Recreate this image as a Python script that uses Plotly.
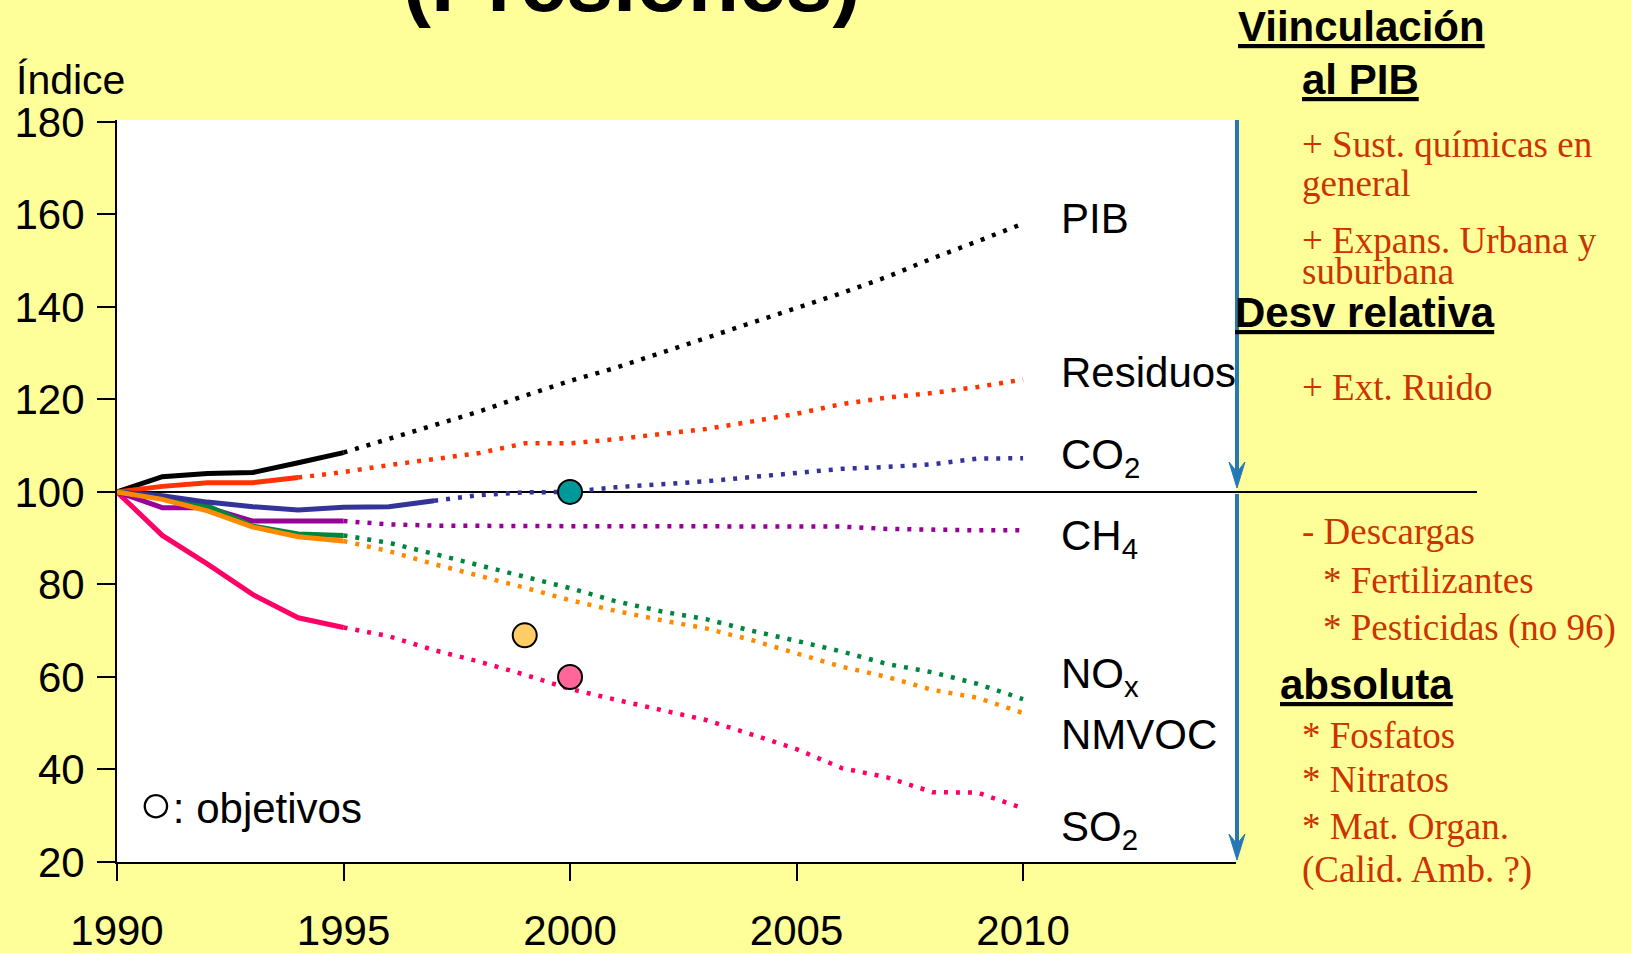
import plotly.graph_objects as go

# ---------------- data ----------------
years_hist = [1990, 1991, 1992, 1993, 1994, 1995, 1996, 1997]
years_proj = list(range(1994, 2011))

pib_hist = [100, 103.3, 104.0, 104.2, 106.3, 108.5]
pib_proj = [108.5, 111.4, 114.4, 117.4, 120.8, 124.0, 126.8, 130.0, 133.2, 136.5, 139.6, 143.0, 146.5, 150.5, 154.2, 158.0]  # 1995-2010

res_hist = [100, 101.2, 102.0, 102.0, 103.1]
res_proj = [103.1, 104.3, 105.8, 107.2, 108.4, 110.5, 110.5, 111.4, 112.4, 113.6, 115.2, 116.9, 119.0, 120.4, 121.4, 122.7, 124.3]  # 1994-2010

co2_hist = [100, 99.2, 97.8, 96.8, 96.1, 96.7, 96.8, 98.1]
co2_proj = [98.1, 99.3, 99.9, 100.0, 101.0, 101.6, 102.3, 103.2, 104.1, 105.0, 105.4, 106.0, 107.2, 107.3]  # 1997-2010

ch4_hist = [100, 96.6, 96.6, 93.7, 93.7, 93.7]
ch4_proj = [93.7, 93.0, 92.7, 92.6, 92.6, 92.6, 92.6, 92.6, 92.6, 92.5, 92.5, 92.5, 92.0, 91.8, 91.7, 91.7]  # 1995-2010

nox_hist = [100, 98.8, 97.0, 92.6, 90.9, 90.6]
nox_proj = [90.6, 89.0, 86.6, 84.1, 81.5, 79.2, 76.4, 74.2, 72.5, 70.0, 67.8, 65.5, 62.8, 61.0, 58.5, 55.2]  # 1995-2010

nmvoc_hist = [100, 98.4, 95.9, 92.4, 90.3, 89.4]
nmvoc_proj = [89.4, 87.2, 84.4, 81.9, 79.3, 76.6, 74.3, 72.3, 70.5, 68.0, 65.0, 62.2, 60.0, 57.2, 55.5, 52.2]  # 1995-2010

so2_hist = [100, 90.6, 84.4, 77.8, 72.8, 70.7]
so2_proj = [70.7, 68.8, 65.8, 63.3, 60.5, 57.4, 55.1, 52.9, 50.7, 47.6, 44.4, 40.3, 38.3, 35.1, 35.0, 31.6]  # 1995-2010

target_years = [2000, 1999, 2000]
target_values = [100, 69, 60]

line_labels = ["PIB", "Residuos", "CO<sub>2</sub>", "CH<sub>4</sub>", "NO<sub>x</sub>", "NMVOC", "SO<sub>2</sub>"]
line_label_values = [159.1, 125.9, 107.4, 89.9, 60.0, 47.6, 27.0]

x_ticks = [1990, 1995, 2000, 2005, 2010]
y_ticks = [20, 40, 60, 80, 100, 120, 140, 160, 180]

right_texts = [
    "+ Sust. químicas en", "general", "+ Expans. Urbana y", "suburbana",
    "+ Ext. Ruido", "- Descargas", "* Fertilizantes", "* Pesticidas (no 96)",
    "* Fosfatos", "* Nitratos", "* Mat. Organ.", "(Calid. Amb. ?)",
]
headings = ["Viinculación", "al PIB", "Desv relativa", "absoluta"]

# ---------------- styles / layout geometry ----------------
W_PX, H_PX = 1631, 953
L, R, T, B = 116.7, 1236.0, 120.0, 862.0
PW, PH = R - L, B - T


def xp(px):
    return (px - L) / PW


def yp(py):
    return (B - py) / PH


BG = "#FFFF99"
RED = "#CC3300"
BLUE = "#2677B5"
SANS = "Arial, Liberation Sans, sans-serif"
SERIF = "Times New Roman, Liberation Serif, serif"
DOT = "4px,8px"

series = [
    ("PIB", years_hist[:6], pib_hist, list(range(1995, 2011)), pib_proj, "#000000"),
    ("Residuos", years_hist[:5], res_hist, years_proj, res_proj, "#FF3300"),
    ("SO2", years_hist[:6], so2_hist, list(range(1995, 2011)), so2_proj, "#FF0066"),
    ("CH4", years_hist[:6], ch4_hist, list(range(1995, 2011)), ch4_proj, "#990099"),
    ("NOx", years_hist[:6], nox_hist, list(range(1995, 2011)), nox_proj, "#00853F"),
    ("CO2", years_hist, co2_hist, list(range(1997, 2011)), co2_proj, "#333399"),
    ("NMVOC", years_hist[:6], nmvoc_hist, list(range(1995, 2011)), nmvoc_proj, "#FF8A00"),
]

fig = go.Figure()
for name, hx, hy, px_, py_, col in series:
    fig.add_trace(go.Scatter(x=px_, y=py_, mode="lines", line=dict(color=col, width=4.5, dash=DOT),
                             showlegend=False, hoverinfo="skip"))
    fig.add_trace(go.Scatter(x=hx, y=hy, mode="lines", line=dict(color=col, width=5),
                             showlegend=False, name=name))

fig.add_trace(go.Scatter(
    x=target_years, y=target_values, mode="markers",
    marker=dict(size=24, color=["#009999", "#FFCC66", "#FF6699"], line=dict(color="black", width=2)),
    showlegend=False))

# horizontal 100 line extending into the right panel
fig.add_shape(type="line", xref="paper", yref="y", x0=0, x1=xp(1477), y0=100, y1=100,
              line=dict(color="black", width=2), layer="below")


# blue arrows
def arrow(y_top, y_tip):
    notch = y_tip - 16
    fig.add_shape(type="line", xref="paper", yref="paper", x0=xp(1237), x1=xp(1237),
                  y0=yp(y_top), y1=yp(notch), line=dict(color=BLUE, width=4), layer="above")
    path = "M {a},{b} L {c},{d} L {a},{e} L {f},{d} Z".format(
        a=xp(1237), b=yp(y_tip), c=xp(1229), d=yp(y_tip - 26), e=yp(notch), f=xp(1245))
    fig.add_shape(type="path", xref="paper", yref="paper", path=path,
                  fillcolor=BLUE, line=dict(color=BLUE, width=1), layer="above")


arrow(120, 488)
arrow(494, 860)

ann = []
# title (mostly cut off at top)
ann.append(dict(text="<b>(Presiones)</b>", x=xp(631.5), y=yp(-18), xref="paper", yref="paper",
                xanchor="center", yanchor="middle", showarrow=False,
                font=dict(family=SANS, size=84, color="black")))
ann.append(dict(text="Índice", x=xp(14), y=yp(80), xref="paper", yref="paper",
                xanchor="left", yanchor="middle", showarrow=False,
                font=dict(family=SANS, size=41, color="black")))
ann.append(dict(text='<span style="font-size:56px">○</span>: objetivos', x=xp(137), y=yp(803),
                xref="paper", yref="paper", xanchor="left", yanchor="middle", showarrow=False,
                font=dict(family=SANS, size=42, color="black")))

for txt, v in zip(line_labels, line_label_values):
    ann.append(dict(text=txt, x=2010.8, y=v, xref="x", yref="y", xanchor="left", yanchor="middle",
                    showarrow=False, font=dict(family=SANS, size=42, color="black")))

head_pos = [(1362, 27, "center"), (1361, 80, "center"), (1233, 312, "left"), (1278, 684, "left")]
for txt, (x0, y0, anc) in zip(headings, head_pos):
    ann.append(dict(text="<b><u>" + txt + "</u></b>", x=xp(x0), y=yp(y0), xref="paper", yref="paper",
                    xanchor=anc, yanchor="middle", showarrow=False,
                    font=dict(family=SANS, size=42, color="black")))

right_pos = [(1300, 145), (1300, 183), (1300, 240), (1300, 271), (1300, 387), (1300, 531),
             (1321, 580), (1321, 628), (1300, 735), (1300, 779), (1300, 826), (1300, 870)]
for txt, (x0, y0) in zip(right_texts, right_pos):
    ann.append(dict(text=txt, x=xp(x0), y=yp(y0), xref="paper", yref="paper",
                    xanchor="left", yanchor="middle", showarrow=False,
                    font=dict(family=SERIF, size=37, color=RED)))

fig.update_layout(
    width=W_PX, height=H_PX,
    margin=dict(l=L, r=W_PX - R, t=T, b=H_PX - B, pad=0, autoexpand=False),
    paper_bgcolor=BG, plot_bgcolor="white",
    showlegend=False,
    annotations=ann,
    xaxis=dict(range=[1990, 2014.7], tickvals=x_ticks, ticktext=[str(v) for v in x_ticks],
               showline=True, linecolor="black", linewidth=2, ticks="outside", ticklen=17,
               tickwidth=2, tickcolor="black", showgrid=False, zeroline=False,
               tickfont=dict(family=SANS, size=42, color="black"), ticklabelstandoff=14),
    yaxis=dict(range=[20, 180.4], tickvals=y_ticks, showline=True, linecolor="black", linewidth=2,
               ticks="outside", ticklen=18, tickwidth=2, tickcolor="black", showgrid=False,
               zeroline=False, tickfont=dict(family=SANS, size=42, color="black"),
               ticklabelstandoff=4),
)

fig.write_html("out.html", config={"displayModeBar": False},
               post_script="document.body.style.margin='0px';")
